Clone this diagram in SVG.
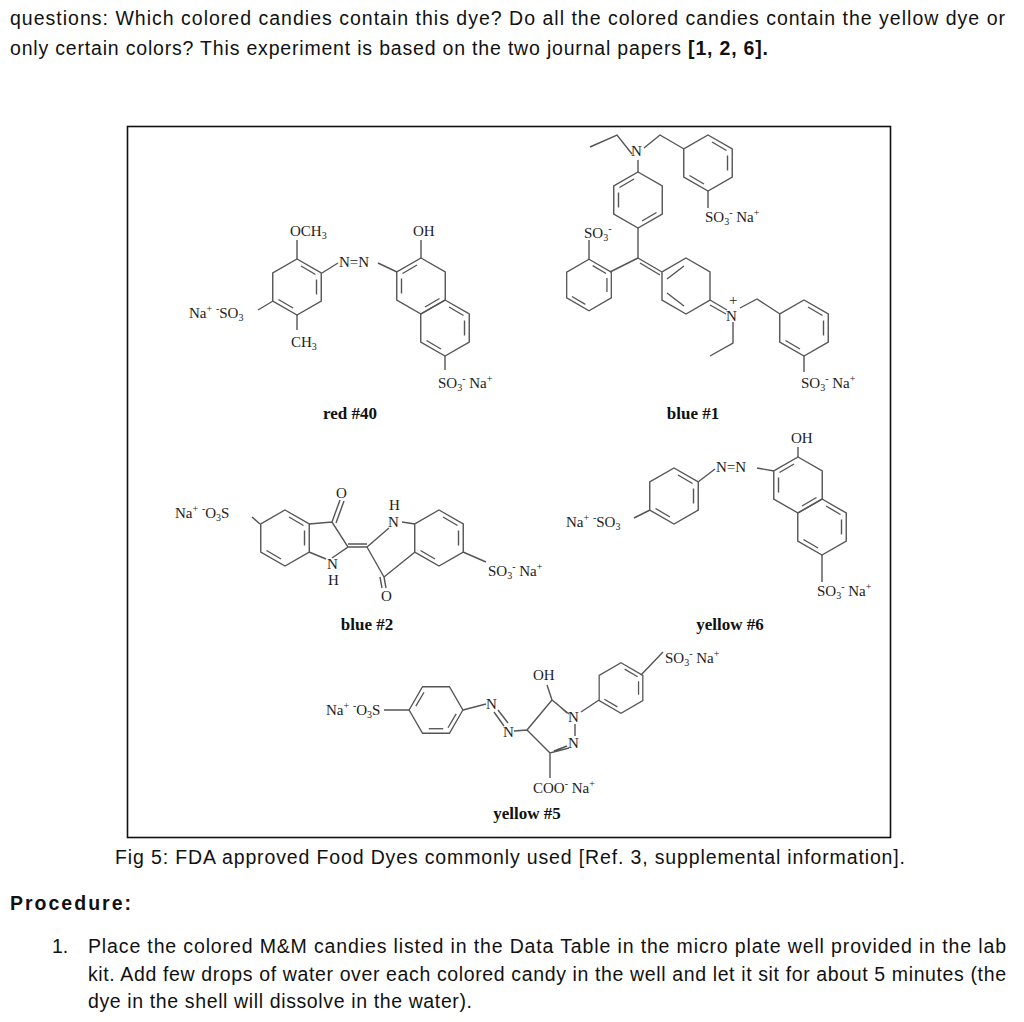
<svg xmlns="http://www.w3.org/2000/svg" xmlns:xlink="http://www.w3.org/1999/xlink" width="1024" height="1022" viewBox="0 0 1024 1022">
<style>
.p{font-family:"Liberation Sans",Arial,sans-serif;font-size:19.5px;fill:#111}
.c{font-family:"Liberation Serif","Times New Roman",serif;font-size:15px;fill:#222}
.s{font-size:10px}
.l{font-family:"Liberation Serif","Times New Roman",serif;font-size:17px;font-weight:bold;fill:#111}
.b{fill:none;stroke:#555;stroke-width:1.4;vector-effect:non-scaling-stroke}
</style>
<defs>
<g id="hex" class="b">
<polygon points="0,-28 24.25,-14 24.25,14 0,28 -24.25,14 -24.25,-14"/>
<line x1="4" y1="-21" x2="18.5" y2="-12.5"/>
<line x1="19.5" y1="-7.5" x2="19.5" y2="7.5"/>
<line x1="-4" y1="21" x2="-18.5" y2="12.5"/>
</g>
<g id="hex2" class="b">
<polygon points="0,-28 24.25,-14 24.25,14 0,28 -24.25,14 -24.25,-14"/>
<line x1="-4" y1="-21" x2="-18.5" y2="-12.5"/>
<line x1="4" y1="21" x2="18.5" y2="12.5"/>
<line x1="-19.5" y1="-7.5" x2="-19.5" y2="7.5"/>
</g>
</defs>
<rect width="1024" height="1022" fill="#fff"/>
<text class="p" x="10" y="25" textLength="995" lengthAdjust="spacing">questions:  Which colored candies contain this dye? Do all the colored candies contain the yellow dye or</text>
<text class="p" x="10" y="55" textLength="758" lengthAdjust="spacing">only certain colors? This experiment is based on the two journal papers <tspan font-weight="bold">[1, 2, 6].</tspan></text>
<rect x="127.5" y="126.5" width="763" height="711" fill="none" stroke="#111" stroke-width="1.6"/>

<g id="red40">
<use xlink:href="#hex" transform="translate(297,287)"/>
<use xlink:href="#hex2" transform="translate(421,286)"/>
<use xlink:href="#hex" transform="translate(445,328)"/>
<path class="b" d="M297,259V240 M297,315V330 M273,301L258,310 M322,273L338,263 M378,263L397,272 M421,258V240 M445,356V370"/>
<text class="c" x="290" y="236">OCH<tspan class="s" dy="3">3</tspan></text>
<text class="c" x="339" y="267">N=N</text>
<text class="c" x="413" y="236">OH</text>
<text class="c" x="291" y="347">CH<tspan class="s" dy="3">3</tspan></text>
<text class="c" x="189" y="318">Na<tspan class="s" dy="-6">+</tspan><tspan dy="6"> </tspan><tspan class="s" dy="-6">-</tspan><tspan dy="6">SO</tspan><tspan class="s" dy="3">3</tspan></text>
<text class="c" x="438" y="388">SO<tspan class="s" dy="3">3</tspan><tspan class="s" dy="-9">-</tspan><tspan dy="6"> Na</tspan><tspan class="s" dy="-6">+</tspan></text>
<text class="l" x="350" y="419" text-anchor="middle">red #40</text>
</g>

<g id="blue1">
<use xlink:href="#hex" transform="translate(708,163)"/>
<use xlink:href="#hex2" transform="translate(638,200)"/>
<use xlink:href="#hex" transform="translate(589,285) scale(0.92)"/>
<use xlink:href="#hex" transform="translate(804,328)"/>
<polygon class="b" points="686,258 710,272 710,300 686,314 662,300 662,272"/>
<path class="b" d="M667,279L684,266 M667,293L684,306"/>
<path class="b" d="M632,154L617,135L590,147 M644,148L660,135L684,149 M638,160V172 M708,191V208 M638,228V258 M610,272L638,258 M638,258L662,272 M640,263L660,275 M589,259V240 M710,300L727,310 M710,305L726,314 M740,308L757,299L780,314 M733,322V343L710,356 M804,356V372"/>
<text class="c" x="631" y="156">N</text>
<text class="c" x="705" y="222">SO<tspan class="s" dy="3">3</tspan><tspan class="s" dy="-9">-</tspan><tspan dy="6"> Na</tspan><tspan class="s" dy="-6">+</tspan></text>
<text class="c" x="584" y="238">SO<tspan class="s" dy="3">3</tspan><tspan class="s" dy="-9">-</tspan></text>
<text class="c" x="726" y="321">N</text>
<text class="c" x="729" y="305" font-size="11">+</text>
<text class="c" x="801" y="388">SO<tspan class="s" dy="3">3</tspan><tspan class="s" dy="-9">-</tspan><tspan dy="6"> Na</tspan><tspan class="s" dy="-6">+</tspan></text>
<text class="l" x="693" y="419" text-anchor="middle">blue #1</text>
</g>

<g id="blue2">
<use xlink:href="#hex" transform="translate(285,538)"/>
<use xlink:href="#hex" transform="translate(439,538)"/>
<path class="b" d="M309,524L332,522L348,547L332,558 M309,552L326,559 M332,522L340,500 M336,523L344,501 M348,547L367,547 M348,544L367,544 M367,547L389,528 M367,547L384,577L415,552 M402,522L415,524 M384,577L386,588 M380,577L382,588 M463,552L486,562 M260,524L252,517"/>
<text class="c" x="327" y="569">N</text>
<text class="c" x="328" y="585" font-size="12">H</text>
<text class="c" x="336" y="498">O</text>
<text class="c" x="389" y="510" font-size="13">H</text>
<text class="c" x="388" y="527">N</text>
<text class="c" x="381" y="601">O</text>
<text class="c" x="175" y="518">Na<tspan class="s" dy="-6">+</tspan><tspan dy="6"> </tspan><tspan class="s" dy="-6">-</tspan><tspan dy="6">O</tspan><tspan class="s" dy="3">3</tspan><tspan dy="-3">S</tspan></text>
<text class="c" x="488" y="576">SO<tspan class="s" dy="3">3</tspan><tspan class="s" dy="-9">-</tspan><tspan dy="6"> Na</tspan><tspan class="s" dy="-6">+</tspan></text>
<text class="l" x="367" y="630" text-anchor="middle">blue #2</text>
</g>

<g id="yellow6">
<use xlink:href="#hex" transform="translate(674,496)"/>
<use xlink:href="#hex2" transform="translate(798,485)"/>
<use xlink:href="#hex" transform="translate(822,527)"/>
<path class="b" d="M650,510L634,518 M698,482L715,469 M757,468L774,471 M798,457V447 M822,555V582"/>
<text class="c" x="716" y="472">N=N</text>
<text class="c" x="791" y="443">OH</text>
<text class="c" x="566" y="527">Na<tspan class="s" dy="-6">+</tspan><tspan dy="6"> </tspan><tspan class="s" dy="-6">-</tspan><tspan dy="6">SO</tspan><tspan class="s" dy="3">3</tspan></text>
<text class="c" x="817" y="596">SO<tspan class="s" dy="3">3</tspan><tspan class="s" dy="-9">-</tspan><tspan dy="6"> Na</tspan><tspan class="s" dy="-6">+</tspan></text>
<text class="l" x="730" y="630" text-anchor="middle">yellow #6</text>
</g>

<g id="yellow5">
<use xlink:href="#hex" transform="translate(436,710) rotate(90) scale(0.96)"/>
<use xlink:href="#hex" transform="translate(621,688) scale(0.9)"/>
<path class="b" d="M384,710H409 M463,710L486,704 M494,712L504,726 M498,710L508,723 M514,731L527,730L552,700L569,714 M552,700L547,685 M556,703L567,713 M575,724V736 M569,748L550,753L527,730 M554,751L567,746 M550,753V778 M599,700L581,712 M641,675L663,652"/>
<text class="c" x="486" y="709">N</text>
<text class="c" x="503" y="737">N</text>
<text class="c" x="568" y="722">N</text>
<text class="c" x="568" y="748">N</text>
<text class="c" x="533" y="680">OH</text>
<text class="c" x="533" y="793">COO<tspan class="s" dy="-6">-</tspan><tspan dy="6"> Na</tspan><tspan class="s" dy="-6">+</tspan></text>
<text class="c" x="326" y="715">Na<tspan class="s" dy="-6">+</tspan><tspan dy="6"> </tspan><tspan class="s" dy="-6">-</tspan><tspan dy="6">O</tspan><tspan class="s" dy="3">3</tspan><tspan dy="-3">S</tspan></text>
<text class="c" x="665" y="663">SO<tspan class="s" dy="3">3</tspan><tspan class="s" dy="-9">-</tspan><tspan dy="6"> Na</tspan><tspan class="s" dy="-6">+</tspan></text>
<text class="l" x="527" y="819" text-anchor="middle">yellow #5</text>
</g>

<text class="p" x="115" y="864" textLength="790" lengthAdjust="spacing">Fig 5: FDA approved Food Dyes commonly used [Ref. 3, supplemental information].</text>
<text class="p" x="10" y="910" font-weight="bold" textLength="121" lengthAdjust="spacing">Procedure:</text>
<text class="p" x="52" y="953">1.</text>
<text class="p" x="88" y="953" textLength="918" lengthAdjust="spacing">Place the colored M&amp;M candies listed in the Data Table in the micro plate well provided in the lab</text>
<text class="p" x="88" y="981" textLength="918" lengthAdjust="spacing">kit. Add few drops of water over each colored candy in the well and let it sit for about 5 minutes (the</text>
<text class="p" x="88" y="1008" textLength="384" lengthAdjust="spacing">dye in the shell will dissolve in the water).</text>
</svg>
